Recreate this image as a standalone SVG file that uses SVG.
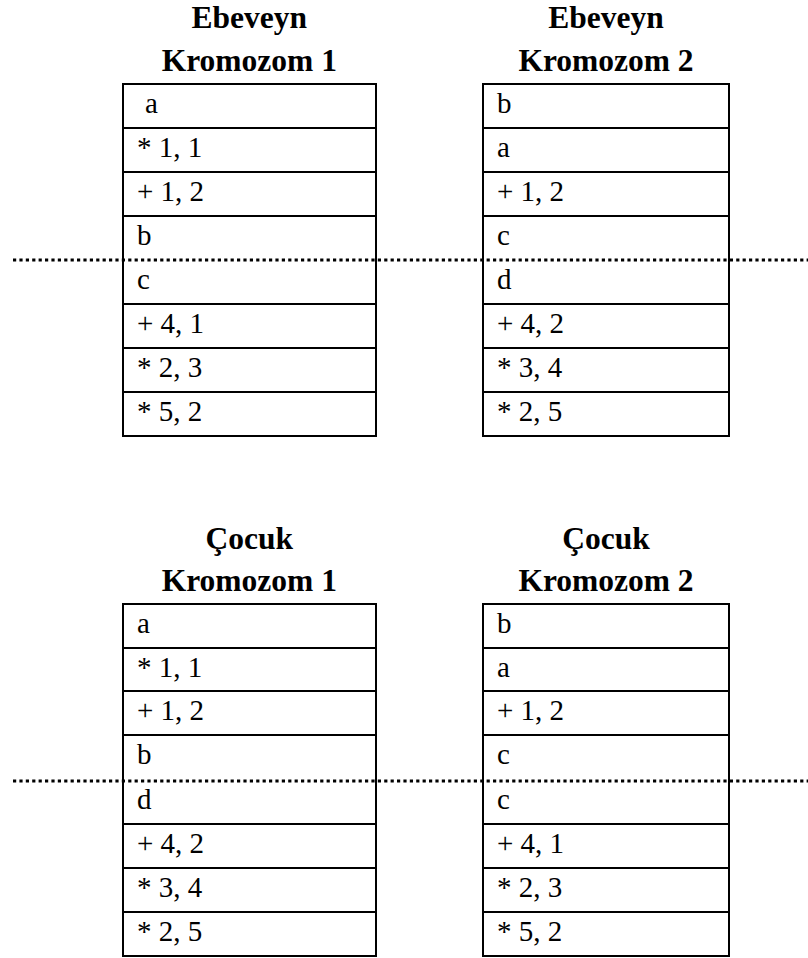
<svg xmlns="http://www.w3.org/2000/svg" width="808" height="958" viewBox="0 0 808 958">
<style>
.t{font-family:"Liberation Serif","Times New Roman",serif;font-size:31.5px;font-weight:bold;fill:#000;text-anchor:middle}
.c{font-family:"Liberation Serif","Times New Roman",serif;font-size:29px;fill:#000}
.box{fill:#fff;stroke:#000;stroke-width:2}
.row{stroke:#000;stroke-width:2}
.dot{stroke:#000;stroke-width:3;stroke-dasharray:3.2 3.2;fill:none}
</style>
<rect width="808" height="958" fill="#fff"/>
<g id="parent1">
<text class="t" x="249.3" y="28">Ebeveyn</text>
<text class="t" x="249.3" y="71">Kromozom 1</text>
<rect class="box" x="123" y="84" width="253" height="352"/>
<path class="row" d="M123 128H376M123 172H376M123 216H376M123 304H376M123 348H376M123 392H376"/>
<text class="c" x="145" y="113">a</text>
<text class="c" x="137" y="157">* 1, 1</text>
<text class="c" x="137" y="201">+ 1, 2</text>
<text class="c" x="137" y="245">b</text>
<text class="c" x="137" y="289">c</text>
<text class="c" x="137" y="333">+ 4, 1</text>
<text class="c" x="137" y="377">* 2, 3</text>
<text class="c" x="137" y="421">* 5, 2</text>
</g>
<g id="parent2">
<text class="t" x="606" y="28">Ebeveyn</text>
<text class="t" x="606" y="71">Kromozom 2</text>
<rect class="box" x="483" y="84" width="246" height="352"/>
<path class="row" d="M483 128H729M483 172H729M483 216H729M483 304H729M483 348H729M483 392H729"/>
<text class="c" x="497" y="113">b</text>
<text class="c" x="497" y="157">a</text>
<text class="c" x="497" y="201">+ 1, 2</text>
<text class="c" x="497" y="245">c</text>
<text class="c" x="497" y="289">d</text>
<text class="c" x="497" y="333">+ 4, 2</text>
<text class="c" x="497" y="377">* 3, 4</text>
<text class="c" x="497" y="421">* 2, 5</text>
</g>
<g id="child1">
<text class="t" x="249.3" y="549">Çocuk</text>
<text class="t" x="249.3" y="591">Kromozom 1</text>
<rect class="box" x="123" y="604" width="253" height="352"/>
<path class="row" d="M123 648H376M123 691H376M123 735H376M123 824H376M123 868H376M123 912H376"/>
<text class="c" x="137" y="633">a</text>
<text class="c" x="137" y="677">* 1, 1</text>
<text class="c" x="137" y="720">+ 1, 2</text>
<text class="c" x="137" y="764">b</text>
<text class="c" x="137" y="809">d</text>
<text class="c" x="137" y="853">+ 4, 2</text>
<text class="c" x="137" y="897">* 3, 4</text>
<text class="c" x="137" y="941">* 2, 5</text>
</g>
<g id="child2">
<text class="t" x="606" y="549">Çocuk</text>
<text class="t" x="606" y="591">Kromozom 2</text>
<rect class="box" x="483" y="604" width="246" height="352"/>
<path class="row" d="M483 648H729M483 691H729M483 735H729M483 824H729M483 868H729M483 912H729"/>
<text class="c" x="497" y="633">b</text>
<text class="c" x="497" y="677">a</text>
<text class="c" x="497" y="720">+ 1, 2</text>
<text class="c" x="497" y="764">c</text>
<text class="c" x="497" y="809">c</text>
<text class="c" x="497" y="853">+ 4, 1</text>
<text class="c" x="497" y="897">* 2, 3</text>
<text class="c" x="497" y="941">* 5, 2</text>
</g>
<g id="connectors">
<line class="dot" x1="13" y1="260" x2="808" y2="260"/>
<line class="dot" x1="13" y1="781" x2="808" y2="781"/>
</g>
</svg>
